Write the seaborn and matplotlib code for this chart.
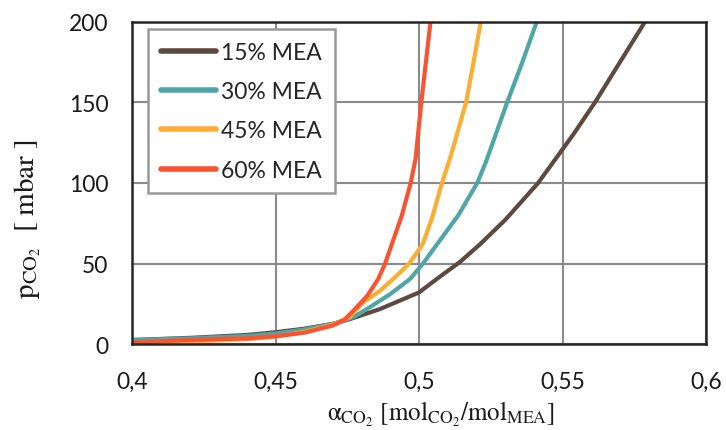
import numpy as np
import pandas as pd
import matplotlib
matplotlib.use("Agg")
import matplotlib.pyplot as plt
import seaborn as sns

# CO2 loading (mol CO2 / mol MEA) and equilibrium partial pressure (mbar)
alpha_15 = [0.400, 0.420, 0.440, 0.450, 0.460, 0.470, 0.476, 0.4864, 0.500, 0.5062,
            0.5143, 0.5213, 0.530, 0.5415, 0.5537, 0.5613, 0.570, 0.5787]
p_15 = [2.5, 3.8, 5.6, 7.3, 9.5, 12.5, 15.5, 21.7, 32.0, 40.4,
        51.0, 62.0, 77.0, 100.0, 130.0, 150.0, 175.0, 200.0]

alpha_30 = [0.400, 0.420, 0.440, 0.450, 0.460, 0.470, 0.477, 0.483, 0.490, 0.4969,
            0.5014, 0.5137, 0.5203, 0.5233, 0.5307, 0.5360, 0.5410]
p_30 = [2.5, 3.5, 5.0, 6.5, 9.0, 12.5, 16.5, 23.0, 31.0, 40.4,
        50.0, 80.0, 100.0, 113.0, 150.0, 175.0, 200.0]

alpha_45 = [0.400, 0.420, 0.440, 0.450, 0.460, 0.470, 0.476, 0.4806, 0.4864, 0.4910,
            0.4966, 0.5013, 0.5045, 0.5080, 0.5111, 0.5164, 0.5190, 0.5215]
p_45 = [0.5, 1.5, 3.0, 4.5, 7.5, 12.0, 17.0, 25.9, 33.0, 40.4,
        50.0, 62.0, 78.0, 100.0, 117.0, 150.0, 175.0, 200.0]

alpha_60 = [0.400, 0.420, 0.440, 0.450, 0.460, 0.470, 0.474, 0.4777, 0.4820, 0.4858,
            0.4882, 0.4940, 0.4971, 0.4988, 0.5008, 0.5024, 0.5040]
p_60 = [1.0, 2.5, 3.5, 4.8, 7.0, 11.5, 15.0, 21.7, 30.0, 40.4,
        50.0, 79.7, 100.0, 115.0, 150.0, 175.0, 200.0]

series_names = ["15% MEA", "30% MEA", "45% MEA", "60% MEA"]
series_colors = ["#5E493F", "#4FA6A6", "#FCAD32", "#FA5331"]

x_ticks = [0.40, 0.45, 0.50, 0.55, 0.60]
x_tick_labels = ["0,4", "0,45", "0,5", "0,55", "0,6"]
y_ticks = [0, 50, 100, 150, 200]
y_tick_labels = ["0", "50", "100", "150", "200"]

frames = []
for name, a, p in zip(series_names,
                      [alpha_15, alpha_30, alpha_45, alpha_60],
                      [p_15, p_30, p_45, p_60]):
    frames.append(pd.DataFrame({"alpha": a, "p": p, "solution": name}))
df = pd.concat(frames, ignore_index=True)

sns.set_theme(style="white")
plt.rcParams["font.family"] = ["Lato", "DejaVu Sans"]
plt.rcParams["mathtext.fontset"] = "stix"

fig, ax = plt.subplots(figsize=(7.26, 4.31), dpi=100)
fig.subplots_adjust(left=132 / 726, right=706 / 726,
                    bottom=1 - 345 / 431, top=1 - 23 / 431)

sns.lineplot(data=df, x="alpha", y="p", hue="solution",
             palette=dict(zip(series_names, series_colors)),
             hue_order=series_names, sort=False, estimator=None,
             linewidth=3.0, ax=ax, legend=True)
for line in ax.get_lines():
    line.set_solid_joinstyle("round")

ax.set_xlim(0.4, 0.6)
ax.set_ylim(0, 200)
ax.set_xticks(x_ticks)
ax.set_xticklabels(x_tick_labels)
ax.set_yticks(y_ticks)
ax.set_yticklabels(y_tick_labels)

ax.grid(True, color="#8a8a8a", linewidth=1.5)
ax.set_axisbelow(True)
for s in ax.spines.values():
    s.set_visible(True)
    s.set_color("#262626")
    s.set_linewidth(1.8)

ax.tick_params(axis="x", direction="inout", length=10, width=1.8,
               color="#262626", labelsize=16.5, pad=14, labelcolor="#1a1a1a")
ax.tick_params(axis="y", direction="out", length=6, width=1.8,
               color="#262626", labelsize=16.5, pad=11, labelcolor="#1a1a1a")

ax.set_xlabel(r"$\mathrm{\alpha_{CO_2}\ [mol_{CO_2}/mol_{MEA}]}$",
              fontsize=18, color="#1a1a1a")
ax.xaxis.set_label_coords(0.538, -0.17)
ax.set_ylabel(r"$\mathrm{p_{CO_2}\ \ [\ mbar\ ]}$", fontsize=21,
              color="#1a1a1a")
ax.yaxis.set_label_coords(-0.155, 0.39)

handles, labels = ax.get_legend_handles_labels()
leg = ax.legend(handles, labels, loc="upper left",
                bbox_to_anchor=(0.028, 0.978), fontsize=16.5,
                frameon=True, fancybox=False, handlelength=2.4,
                handletextpad=0.25, labelspacing=0.8, borderpad=0.55,
                borderaxespad=0)
leg.get_frame().set_edgecolor("#999999")
leg.get_frame().set_linewidth(1.8)
leg.get_frame().set_alpha(1.0)
for line in leg.get_lines():
    line.set_linewidth(4.0)
    line.set_solid_capstyle("round")

fig.savefig("out.png", dpi=100)
